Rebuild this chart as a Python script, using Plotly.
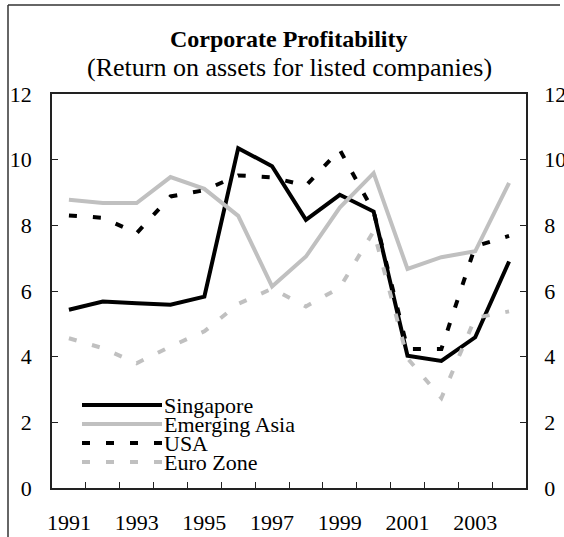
import plotly.graph_objects as go

years = [1991, 1992, 1993, 1994, 1995, 1996, 1997, 1998, 1999, 2000, 2001, 2002, 2003, 2004]
singapore = [5.43, 5.68, 5.63, 5.58, 5.83, 10.35, 9.80, 8.17, 8.93, 8.42, 4.03, 3.87, 4.59, 6.90]
emerging_asia = [8.78, 8.68, 8.68, 9.47, 9.11, 8.29, 6.14, 7.05, 8.54, 9.59, 6.67, 7.03, 7.21, 9.29]
usa = [8.30, 8.23, 7.76, 8.88, 9.07, 9.52, 9.46, 9.21, 10.30, 8.42, 4.23, 4.23, 7.36, 7.68]
euro_zone = [4.56, 4.26, 3.80, 4.31, 4.77, 5.61, 6.07, 5.53, 6.10, 7.82, 3.95, 2.74, 5.18, 5.38]

x_tick_labels = ["1991", "1993", "1995", "1997", "1999", "2001", "2003"]
y_ticks = [0, 2, 4, 6, 8, 10, 12]

BLACK = "#000000"
GRAY = "#C0C0C0"
FONT = "Liberation Serif"
DASH = "8px,16px"

series = [
    ("Singapore", singapore, BLACK, "solid"),
    ("Emerging Asia", emerging_asia, GRAY, "solid"),
    ("USA", usa, BLACK, DASH),
    ("Euro Zone", euro_zone, GRAY, DASH),
]

fig = go.Figure()
for name, vals, col, dash in series:
    fig.add_trace(go.Scatter(x=years, y=vals, mode="lines", name=name,
                             line=dict(color=col, width=4, dash=dash),
                             showlegend=False))
# invisible trace to anchor right axis
fig.add_trace(go.Scatter(x=years, y=singapore, yaxis="y2", mode="lines",
                         line=dict(width=0), opacity=0, showlegend=False, hoverinfo="skip"))

axis_col = "#222222"
fig.update_layout(
    template="none",
    width=564, height=537,
    margin=dict(l=52, r=38, t=94, b=49, autoexpand=False),
    paper_bgcolor="white", plot_bgcolor="white",
    font=dict(family=FONT, size=22, color="black"),
    xaxis=dict(range=[years[0] - 0.5, years[-1] + 0.5], automargin=False,
               tickvals=[int(t) for t in x_tick_labels], ticktext=x_tick_labels,
               ticks="", showgrid=False, zeroline=False,
               showline=True, linecolor=axis_col, linewidth=1.5, mirror=True,
               ticklabelstandoff=14,
               minor=dict(tickvals=[y + 0.5 for y in years[:-1]], ticks="inside",
                          ticklen=6, tickcolor=axis_col, tickwidth=1.2, showgrid=False),
               tickfont=dict(size=22)),
    yaxis=dict(range=[0, 12], tickvals=y_ticks, ticks="inside", ticklen=6, automargin=False,
               tickcolor=axis_col, tickwidth=1.2, showgrid=False, zeroline=False,
               showline=True, linecolor=axis_col, linewidth=1.5,
               ticklabelstandoff=14, tickfont=dict(size=22)),
    yaxis2=dict(range=[0, 12], tickvals=y_ticks, ticks="inside", ticklen=6, automargin=False,
                tickcolor=axis_col, tickwidth=1.2, showgrid=False, zeroline=False,
                showline=True, linecolor=axis_col, linewidth=1.5,
                overlaying="y", side="right",
                ticklabelstandoff=12, tickfont=dict(size=22)),
)

W, H = 474.0, 394.0
L, T = 52.0, 94.0

def px(xp):
    return (xp - L) / W

def py(yp):
    return (T + H - yp) / H

# title and subtitle
fig.add_annotation(text="<b>Corporate Profitability</b>", x=0.5, y=py(39), xref="paper", yref="paper",
                   showarrow=False, font=dict(family=FONT, size=24), xanchor="center", yanchor="middle")
fig.add_annotation(text="(Return on assets for listed companies)", x=0.5, y=py(67), xref="paper", yref="paper",
                   showarrow=False, font=dict(family=FONT, size=26), xanchor="center", yanchor="middle")

# custom legend
legend_rows = [405, 424, 443, 462]
for (name, vals, col, dash), yy in zip(series, legend_rows):
    fig.add_shape(type="line", xref="paper", yref="paper", x0=px(82), x1=px(162), y0=py(yy), y1=py(yy),
                  line=dict(color=col, width=4, dash=dash))
    fig.add_annotation(text=name, x=px(163), y=py(yy), xref="paper", yref="paper", showarrow=False,
                       xanchor="left", yanchor="middle", borderpad=0, font=dict(family=FONT, size=22))

# outer frame (top and left)
fig.add_shape(type="line", xref="paper", yref="paper", x0=px(8), x1=px(560), y0=py(5), y1=py(5),
              line=dict(color="#333333", width=1.5))
fig.add_shape(type="line", xref="paper", yref="paper", x0=px(8), x1=px(8), y0=py(5), y1=py(540),
              line=dict(color="#333333", width=1.5))

fig.write_html("out.html", config={"displayModeBar": False},
               post_script="document.body.style.margin='0';document.body.style.overflow='hidden';")
